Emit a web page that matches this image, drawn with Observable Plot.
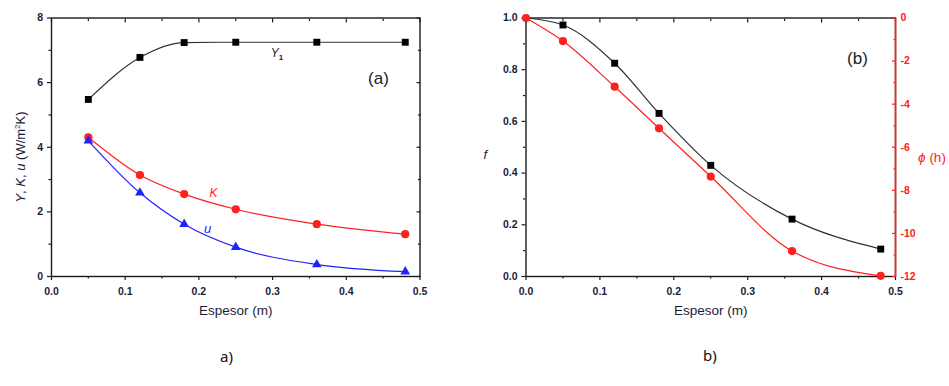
<!DOCTYPE html>
<html><head><meta charset="utf-8">
<script src="https://cdn.jsdelivr.net/npm/d3@7"></script>
<script src="https://cdn.jsdelivr.net/npm/@observablehq/plot@0.6"></script>
<style>
body{margin:0;background:#fff;}
#wrap{position:relative;width:949px;height:386px;background:#fff;overflow:hidden;}
#pa{position:absolute;left:0;top:0;}
#pb{position:absolute;left:470px;top:0;}
.cap{position:absolute;font-family:"Noto Sans","Open Sans",sans-serif;font-size:15px;line-height:15px;color:#111;}
</style></head><body>
<div id="wrap"><div id="pa"></div><div id="pb"></div>
<div class="cap" style="left:220px;top:349px;">a)</div>
<div class="cap" style="left:703px;top:348px;">b)</div></div>
<script>
// ---- data (panel a) ----
const thickness = [0.05, 0.12, 0.18, 0.25, 0.36, 0.48];
const Y1 = [5.48, 6.78, 7.24, 7.25, 7.25, 7.25];
const K = [4.31, 3.14, 2.55, 2.08, 1.62, 1.31];
const U = [4.2, 2.59, 1.62, 0.91, 0.37, 0.15];
// ---- data (panel b) ----
const thicknessB = [0, 0.05, 0.12, 0.18, 0.25, 0.36, 0.48];
const fVals = [1.0, 0.973, 0.825, 0.631, 0.43, 0.222, 0.106];
const phiVals = [0, -1.07, -3.19, -5.12, -7.36, -10.82, -11.97];
// ---- ticks ----
const xMajor = [0, 0.1, 0.2, 0.3, 0.4, 0.5];
const xMinor = [0.05, 0.15, 0.25, 0.35, 0.45];
const yaMajor = [0, 2, 4, 6, 8];
const yaMinor = [1, 3, 5, 7];
const fMajor = [0, 0.2, 0.4, 0.6, 0.8, 1.0];
const fMinor = [0.1, 0.3, 0.5, 0.7, 0.9];
const phiMajor = [0, -2, -4, -6, -8, -10, -12];
const phiMinor = [-1, -3, -5, -7, -9, -11];

const phiToF = p => 1 + p / 12;
const BLACK = "#1a1a1a", RED = "#ff2020", BLUE = "#2222ff", TXT = "#1c1c38";
const font = "'Liberation Sans', Arial, sans-serif";
const none = () => "";

function frameAxes(yMajor, yMinor, yFmt) {
  return [
    Plot.axisX(xMajor, {anchor: "bottom", tickSize: 4, tickPadding: 7, tickFormat: d3.format(".1f"), label: null, strokeWidth: 1.2, fontWeight: "bold"}),
    Plot.axisX(xMinor, {anchor: "bottom", tickSize: 2.5, tickFormat: none, label: null, strokeWidth: 1.2}),
    Plot.axisX(xMajor, {anchor: "top", tickSize: -4, tickFormat: none, label: null, strokeWidth: 1.2}),
    Plot.axisX(xMinor, {anchor: "top", tickSize: -2.5, tickFormat: none, label: null, strokeWidth: 1.2}),
    Plot.axisY(yMajor, {anchor: "left", tickSize: 4, tickPadding: 4.5, tickFormat: yFmt, label: null, strokeWidth: 1.2, fontWeight: "bold"}),
    Plot.axisY(yMinor, {anchor: "left", tickSize: 2.5, tickFormat: none, label: null, strokeWidth: 1.2}),
    Plot.frame({stroke: BLACK, strokeWidth: 1.4})
  ];
}

// ---------- Panel (a) ----------
const pa = Plot.plot({
  width: 470, height: 330,
  marginLeft: 51, marginRight: 50.5, marginTop: 17.5, marginBottom: 54,
  x: {domain: [0, 0.5]},
  y: {domain: [0, 8]},
  style: {fontFamily: font, fontSize: "10.5px", color: TXT, background: "transparent", overflow: "visible"},
  marks: [
    ...frameAxes(yaMajor, yaMinor, d => String(d)),
    Plot.axisY(yaMajor, {anchor: "right", tickSize: -4, tickFormat: none, label: null, strokeWidth: 1.2}),
    Plot.axisY(yaMinor, {anchor: "right", tickSize: -2.5, tickFormat: none, label: null, strokeWidth: 1.2}),
    Plot.line(thickness, {x: thickness, y: Y1, curve: "monotone-x", stroke: "#333", strokeWidth: 1.2}),
    Plot.line(thickness, {x: thickness, y: K, curve: "monotone-x", stroke: RED, strokeWidth: 1.2}),
    Plot.line(thickness, {x: thickness, y: U, curve: "monotone-x", stroke: BLUE, strokeWidth: 1.2}),
    Plot.dot(thickness, {x: thickness, y: Y1, symbol: "square", r: 3.9, fill: "#000", stroke: null}),
    Plot.dot(thickness, {x: thickness, y: K, symbol: "circle", r: 4.1, fill: RED, stroke: null}),
    Plot.dot(thickness, {x: thickness, y: U, symbol: "triangle", r: 3.6, fill: BLUE, stroke: null}),
    Plot.text(["(a)"], {x: [0.4437], y: [6.13], fontSize: 17, fill: "#222", fontFamily: font}),
    Plot.text(["K"], {x: [0.2198], y: [2.57], fontSize: 12, fontStyle: "italic", fill: RED}),
    Plot.text(["u"], {x: [0.2117], y: [1.49], fontSize: 13, fontStyle: "italic", fill: BLUE}),
    Plot.text(["Espesor (m)"], {frameAnchor: "bottom", dy: 38, fontSize: 13.5, fill: TXT})
  ]
});
document.getElementById("pa").appendChild(pa);
{
  const svg = d3.select(pa);
  const sx = pa.scale("x"), sy = pa.scale("y");
  const t1 = svg.append("text")
    .attr("x", sx.apply(0.3067)).attr("y", sy.apply(6.9)).attr("dy", "0.35em")
    .attr("text-anchor", "middle").attr("font-family", font).attr("font-size", 12).attr("fill", "#222");
  t1.append("tspan").attr("font-style", "italic").text("Y");
  t1.append("tspan").attr("font-size", 8).attr("font-weight", "bold").attr("dy", 3).text("1");
  const yl = svg.append("text")
    .attr("transform", `translate(20,157) rotate(-90)`)
    .attr("text-anchor", "middle").attr("dy", "0.35em")
    .attr("font-family", font).attr("font-size", 13).attr("fill", TXT);
  yl.append("tspan").attr("font-style", "italic").text("Y");
  yl.append("tspan").text(", ");
  yl.append("tspan").attr("font-style", "italic").text("K");
  yl.append("tspan").text(", ");
  yl.append("tspan").attr("font-style", "italic").text("u");
  yl.append("tspan").text(" (W/m");
  yl.append("tspan").attr("font-size", 8).attr("dy", -5).text("2");
  yl.append("tspan").attr("dy", 5).text("K)");
}

// ---------- Panel (b) ----------
const pb = Plot.plot({
  width: 479, height: 330,
  marginLeft: 55.5, marginRight: 54, marginTop: 17.5, marginBottom: 54,
  x: {domain: [0, 0.5]},
  y: {domain: [0, 1]},
  style: {fontFamily: font, fontSize: "10.5px", color: TXT, background: "transparent", overflow: "visible"},
  marks: [
    ...frameAxes(fMajor, fMinor, d3.format(".1f")),
    Plot.ruleX([0.5], {stroke: RED, strokeWidth: 1.6}),
    Plot.axisY(phiMajor.map(phiToF), {anchor: "right", tickSize: -4, tickPadding: 9, tickFormat: d => String(Math.round((d - 1) * 12)), label: null, color: RED, strokeWidth: 1.2, fontWeight: "bold"}),
    Plot.axisY(phiMinor.map(phiToF), {anchor: "right", tickSize: -2.5, tickFormat: none, label: null, color: RED, strokeWidth: 1.2}),
    Plot.line(thicknessB, {x: thicknessB, y: fVals, curve: "monotone-x", stroke: "#333", strokeWidth: 1.2}),
    Plot.line(thicknessB, {x: thicknessB, y: phiVals.map(phiToF), curve: "monotone-x", stroke: RED, strokeWidth: 1.2}),
    Plot.dot(thickness, {x: thickness, y: fVals.slice(1), symbol: "square", r: 3.9, fill: "#000", stroke: null}),
    Plot.dot(thicknessB, {x: thicknessB, y: phiVals.map(phiToF), symbol: "circle", r: 4.1, fill: RED, stroke: null}),
    Plot.text(["(b)"], {x: [0.4486], y: [0.843], fontSize: 17, fill: "#222"}),
    Plot.text(["f"], {frameAnchor: "left", dx: -42.5, dy: 8, fontSize: 13, fontStyle: "italic", fill: TXT}),
    Plot.text(["Espesor (m)"], {frameAnchor: "bottom", dy: 38, fontSize: 13.5, fill: TXT})
  ]
});
document.getElementById("pb").appendChild(pb);
{
  const svg = d3.select(pb);
  const t = svg.append("text")
    .attr("x", 462).attr("y", 157).attr("dy", "0.35em")
    .attr("text-anchor", "middle").attr("font-family", font).attr("font-size", 13.5).attr("fill", RED);
  t.append("tspan").attr("font-style", "italic").text("ϕ");
  t.append("tspan").text(" (h)");
}
</script>
</body></html>
